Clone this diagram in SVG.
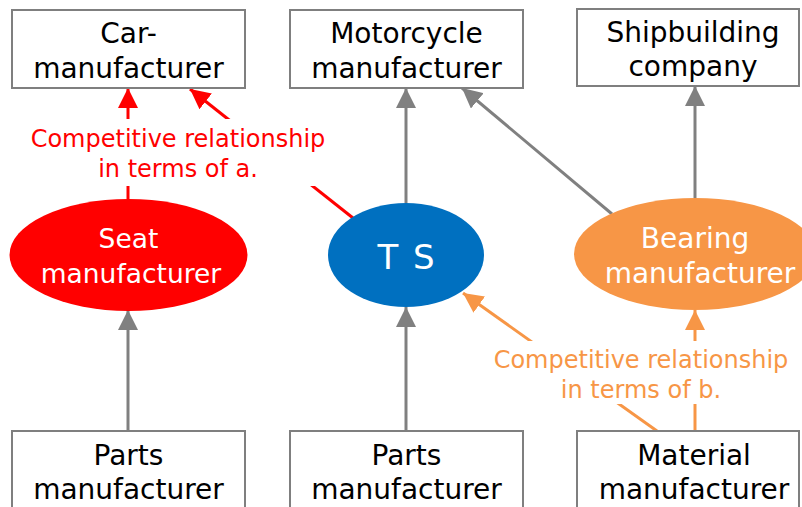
<svg xmlns="http://www.w3.org/2000/svg" width="802" height="507" viewBox="0 0 802 507">
  <style>
    .box { fill: #ffffff; stroke: #7f7f7f; stroke-width: 2; }
    .t { font-family: "DejaVu Sans", Verdana, sans-serif; text-anchor: middle; }
    .node { font-size: 28px; fill: #000000; }
    .oval { font-size: 26.5px; fill: #ffffff; }
    .lbl { font-size: 24px; }
    .gray { stroke: #808080; stroke-width: 3; fill: none; }
    .red { stroke: #ff0000; stroke-width: 3; fill: none; }
    .orange { stroke: #f79646; stroke-width: 3; fill: none; }
  </style>
  <defs>
    <marker id="ah-gray" markerUnits="userSpaceOnUse" markerWidth="20" markerHeight="20" refX="20" refY="10" orient="auto">
      <path d="M0,0 L20,10 L0,20 Z" fill="#808080"/>
    </marker>
    <marker id="ah-red" markerUnits="userSpaceOnUse" markerWidth="20" markerHeight="20" refX="20" refY="10" orient="auto">
      <path d="M0,0 L20,10 L0,20 Z" fill="#ff0000"/>
    </marker>
    <marker id="ah-orange" markerUnits="userSpaceOnUse" markerWidth="20" markerHeight="20" refX="20" refY="10" orient="auto">
      <path d="M0,0 L20,10 L0,20 Z" fill="#f79646"/>
    </marker>
  </defs>

  <g id="connectors">
    <line class="gray" x1="128" y1="431" x2="128" y2="310" marker-end="url(#ah-gray)"/>
    <line class="gray" x1="406" y1="431" x2="406" y2="307" marker-end="url(#ah-gray)"/>
    <line class="gray" x1="406" y1="203" x2="406" y2="88" marker-end="url(#ah-gray)"/>
    <line class="gray" x1="612" y1="214" x2="462" y2="88" marker-end="url(#ah-gray)"/>
    <line class="gray" x1="695" y1="198" x2="695" y2="86" marker-end="url(#ah-gray)"/>
    <line class="red" x1="128" y1="199" x2="128" y2="88" marker-end="url(#ah-red)"/>
    <line class="red" x1="353" y1="218" x2="190" y2="89" marker-end="url(#ah-red)"/>
    <line class="orange" x1="695" y1="431" x2="695" y2="310" marker-end="url(#ah-orange)"/>
    <line class="orange" x1="657" y1="431" x2="463" y2="293" marker-end="url(#ah-orange)"/>
  </g>

  <g id="label-a">
    <rect x="24" y="119" width="310" height="67" fill="#ffffff"/>
    <text class="t lbl" fill="#ff0000" x="178" y="147">Competitive relationship</text>
    <text class="t lbl" fill="#ff0000" x="178" y="177">in terms of a.</text>
  </g>
  <g id="label-b">
    <rect x="486" y="341" width="310" height="63" fill="#ffffff"/>
    <text class="t lbl" fill="#f79646" x="641" y="368">Competitive relationship</text>
    <text class="t lbl" fill="#f79646" x="641" y="398">in terms of b.</text>
  </g>

  <g id="car-manufacturer">
    <rect class="box" x="12" y="10" width="233" height="78"/>
    <text class="t node" x="128.5" y="43">Car-</text>
    <text class="t node" x="128.5" y="78">manufacturer</text>
  </g>
  <g id="motorcycle-manufacturer">
    <rect class="box" x="290" y="10" width="233" height="78"/>
    <text class="t node" x="406.5" y="43">Motorcycle</text>
    <text class="t node" x="406.5" y="78">manufacturer</text>
  </g>
  <g id="shipbuilding-company">
    <rect class="box" x="577" y="9" width="222" height="77"/>
    <text class="t node" x="693" y="42">Shipbuilding</text>
    <text class="t node" x="693" y="76">company</text>
  </g>

  <g id="seat-manufacturer">
    <ellipse cx="128.5" cy="255" rx="119" ry="56" fill="#ff0000"/>
    <text class="t oval" x="128.5" y="248">Seat</text>
    <text class="t oval" x="131" y="283">manufacturer</text>
  </g>
  <g id="ts">
    <ellipse cx="406" cy="255" rx="78" ry="52" fill="#0070c0"/>
    <text class="t oval" x="407" y="269" style="font-size:34px;letter-spacing:2px">T S</text>
  </g>
  <g id="bearing-manufacturer">
    <ellipse cx="695" cy="254" rx="121" ry="56" fill="#f79646"/>
    <text class="t oval" x="695" y="248" style="font-size:28px">Bearing</text>
    <text class="t oval" x="700" y="283" style="font-size:28px">manufacturer</text>
  </g>

  <g id="parts-manufacturer-1">
    <rect class="box" x="12" y="431" width="233" height="90"/>
    <text class="t node" x="128.5" y="465">Parts</text>
    <text class="t node" x="128.5" y="499">manufacturer</text>
  </g>
  <g id="parts-manufacturer-2">
    <rect class="box" x="290" y="431" width="233" height="90"/>
    <text class="t node" x="406.5" y="465">Parts</text>
    <text class="t node" x="406.5" y="499">manufacturer</text>
  </g>
  <g id="material-manufacturer">
    <rect class="box" x="577" y="431" width="222" height="90"/>
    <text class="t node" x="694" y="465">Material</text>
    <text class="t node" x="694" y="499">manufacturer</text>
  </g>
</svg>
